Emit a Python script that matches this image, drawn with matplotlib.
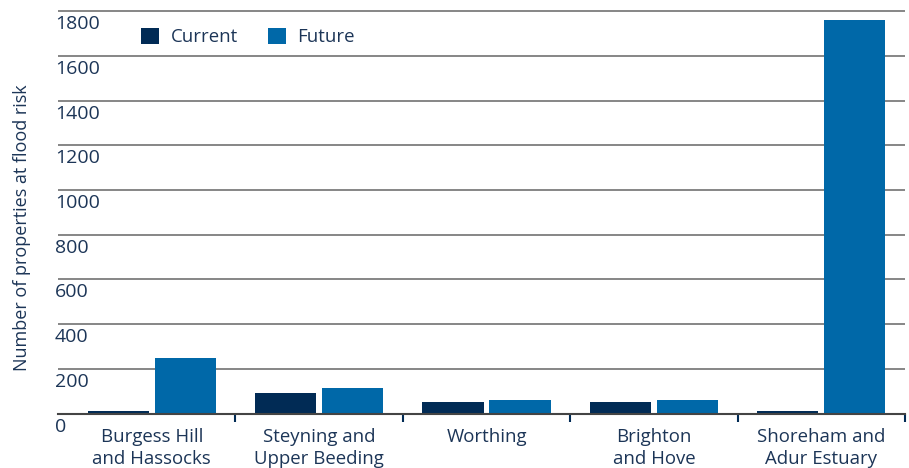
import matplotlib
matplotlib.use("Agg")
import matplotlib.pyplot as plt
import matplotlib.transforms as mtransforms
import numpy as np

# data
areas = ["Burgess Hill\nand Hassocks", "Steyning and\nUpper Beeding", "Worthing",
         "Brighton\nand Hove", "Shoreham and\nAdur Estuary"]
current = [12, 92, 52, 52, 12]
future = [250, 115, 61, 61, 1760]
y_ticks = [0, 200, 400, 600, 800, 1000, 1200, 1400, 1600, 1800]

navy = "#012b55"
blue = "#0068a8"
text_col = "#1c3557"
fs = 13.4

plt.rcParams["font.family"] = ["Open Sans", "DejaVu Sans"]

fig = plt.figure(figsize=(9.09, 4.68), dpi=100)
ax = fig.add_axes([58 / 909, 1 - 413.7 / 468, (905 - 58) / 909, (413.7 - 8.8) / 468])

x = np.arange(len(areas))
w = 0.365
ax.bar(x - 0.2, current, width=w, color=navy, label="Current", zorder=3)
ax.bar(x + 0.2, future, width=w, color=blue, label="Future", zorder=3)

ax.set_xlim(-0.56, 4.5)
ax.set_ylim(0, 1810)

# gridlines
ax.set_yticks(y_ticks)
ax.yaxis.grid(True, color="#7d7d7d", lw=1.3, zorder=1)
ax.tick_params(axis="y", length=0, labelleft=False)

# y tick labels sit inside the plot, just under each gridline
offset = mtransforms.ScaledTranslation(-3 / 100, -13 / 100, fig.dpi_scale_trans)
for v in y_ticks:
    ax.text(-0.56, v, str(v), ha="left", va="center", fontsize=fs + 0.6, color=text_col,
            transform=ax.transData + offset, clip_on=False)

# x ticks at category boundaries, labels at centres
ax.set_xticks(np.arange(0.5, len(areas), 1.0))
ax.set_xticklabels([])
ax.set_xticks(x, minor=True)
ax.set_xticklabels(areas, minor=True, fontsize=fs, color=text_col, linespacing=1.3)
ax.tick_params(axis="x", which="major", direction="out", length=6, width=1.5, color=navy)
ax.tick_params(axis="x", which="minor", length=0, pad=10)

for s in ["top", "right", "left"]:
    ax.spines[s].set_visible(False)
ax.spines["bottom"].set_color("#444444")
ax.spines["bottom"].set_linewidth(1.5)
ax.spines["bottom"].set_zorder(4)

fig.text(22 / 909, 1 - 228 / 468, "Number of properties at flood risk", rotation=90,
         ha="center", va="center", fontsize=fs - 0.4, color=text_col)

leg = ax.legend(loc="upper left", bbox_to_anchor=(0.078, 0.995), ncol=2, frameon=False,
                fontsize=fs, handlelength=1.0, handleheight=1.0, columnspacing=1.6,
                handletextpad=0.6)
for t in leg.get_texts():
    t.set_color(text_col)

fig.savefig("out.png", dpi=100)
